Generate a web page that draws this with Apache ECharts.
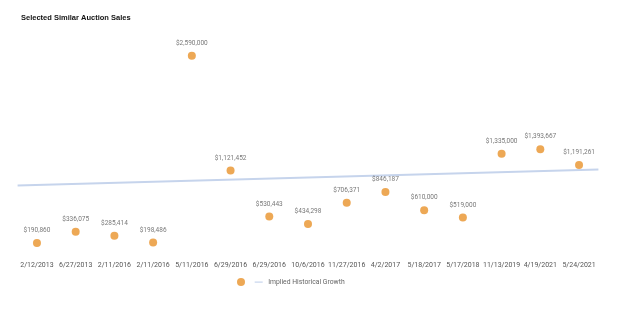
<!DOCTYPE html>
<html>
<head>
<meta charset="utf-8">
<script src="https://cdn.jsdelivr.net/npm/echarts@6/dist/echarts.min.js"></script>
<style>
  html, body { margin: 0; padding: 0; background: #fff; }
  #chartDiv { width: 623px; height: 313px; }
</style>
</head>
<body>
<div id="chartDiv"></div>
<script>
// sale dates and prices
var saleDates = ['2/12/2013', '6/27/2013', '2/11/2016', '2/11/2016', '5/11/2016', '6/29/2016', '6/29/2016',
    '10/6/2016', '11/27/2016', '4/2/2017', '5/18/2017', '5/17/2018', '11/13/2019', '4/19/2021', '5/24/2021'];
var salePrices = [190860, 336075, 285414, 198486, 2590000, 1121452, 530443,
    434298, 706371, 846187, 610000, 519000, 1335000, 1393667, 1191261];
// implied growth line, from the left edge to the right edge of the plot
var trendX = [-0.5, 14.5];
var trendY = [930000, 1135000];

var chart = echarts.init(document.getElementById('chartDiv'));

function money(v) {
    return '$' + v.toLocaleString('en-US');
}

var option = {
    animation: false,
    title: {
        text: 'Selected Similar Auction Sales',
        left: 16,
        top: 9,
        textStyle: { fontSize: 7.5, fontWeight: 'bold', color: '#111', fontFamily: 'Liberation Sans' }
    },
    legend: {
        bottom: 22,
        left: 232,
        itemWidth: 10,
        itemHeight: 8,
        itemGap: 1,
        textStyle: { fontSize: 6.8, color: '#666', fontFamily: 'Roboto' },
        data: [
            { name: ' ', icon: 'circle' },
            { name: 'Implied Historical Growth', icon: 'path://M0,0M0,8M1,3.5L9,3.5L9,4.7L1,4.7Z' }
        ]
    },
    grid: { left: 17.6, right: 24.6, top: 55, bottom: 55 },
    xAxis: [{
        type: 'category',
        data: saleDates,
        axisLine: { show: false },
        axisTick: { show: false },
        axisLabel: { fontSize: 7, color: '#555', margin: 4, interval: 0, fontFamily: 'Roboto' }
    }, {
        type: 'value',
        min: -0.5,
        max: 14.5,
        show: false
    }],
    yAxis: {
        type: 'value',
        min: 0,
        max: 2600000,
        show: false,
        splitLine: { show: false }
    },
    series: [{
        name: ' ',
        type: 'scatter',
        data: salePrices,
        symbolSize: 8,
        itemStyle: { color: '#e8922b' },
        label: {
            show: true,
            position: 'top',
            distance: 5,
            fontSize: 6.5,
            color: '#555',
            fontFamily: 'Roboto',
            formatter: function (p) { return money(p.value); }
        },
        z: 3
    }, {
        name: 'Implied Historical Growth',
        type: 'line',
        xAxisIndex: 1,
        data: trendX.map(function (x, i) { return [x, trendY[i]]; }),
        symbol: 'none',
        lineStyle: { color: '#c6d4ec', width: 2 },
        itemStyle: { color: '#c6d4ec' },
        z: 2
    }]
};

chart.setOption(option);
</script>
</body>
</html>
